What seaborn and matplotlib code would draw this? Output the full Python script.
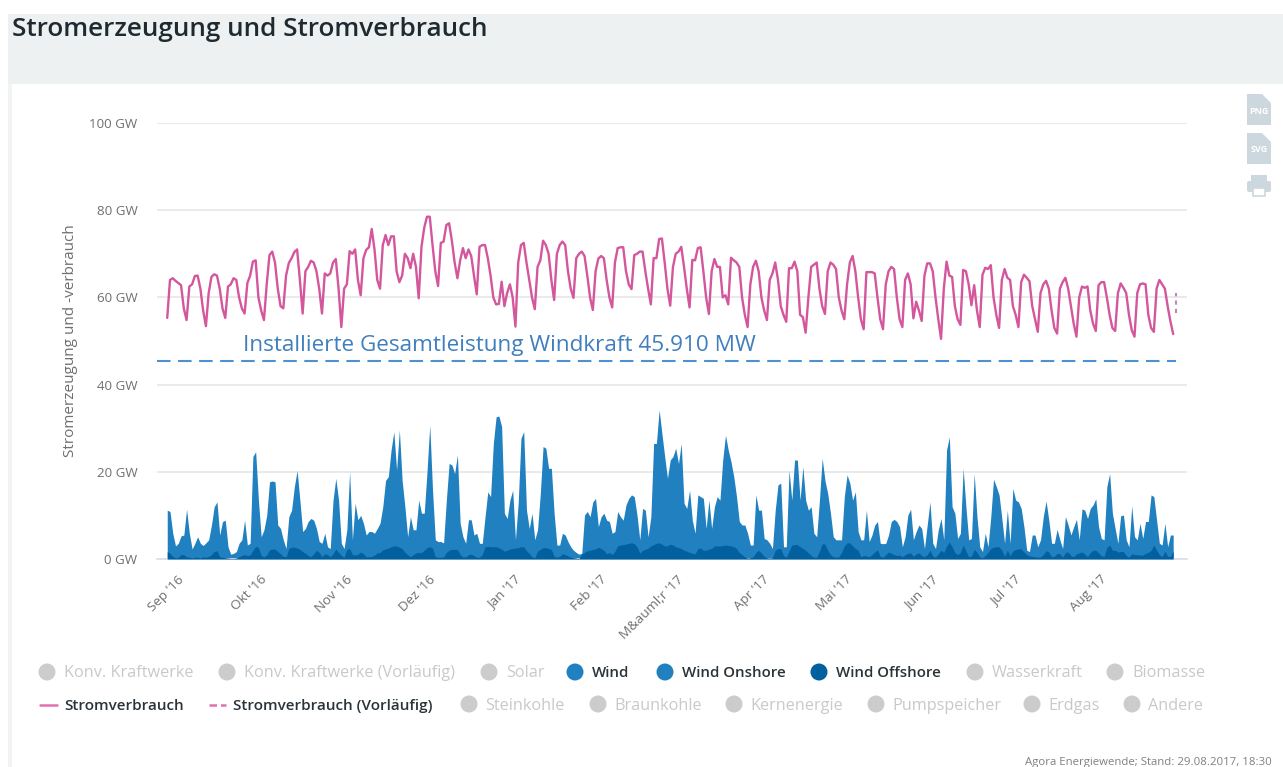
# -*- coding: utf-8 -*-
"""
Stromerzeugung und Stromverbrauch - Wind und Verbrauch Sep 2016 bis Aug 2017
"""
import pandas as pd
import seaborn as sns
import matplotlib.pyplot as plt
from matplotlib.patches import Rectangle, Polygon, Circle, FancyBboxPatch

#one row per week, starting on the sunday low
verbrauch = [
    55.3, 64.0, 64.4, 63.8, 63.3, 62.8, 57.5,
    54.8, 62.5, 63.0, 64.9, 65.0, 62.0, 57.0,
    53.4, 61.0, 64.7, 65.3, 65.0, 62.0, 57.5,
    55.3, 62.5, 63.0, 64.4, 64.0, 60.0, 57.5,
    56.3, 63.3, 65.0, 68.2, 68.5, 60.0, 57.0,
    54.8, 63.0, 69.7, 70.5, 68.0, 62.0, 58.0,
    57.5, 65.0, 67.9, 69.0, 70.4, 71.0, 64.0,
    56.3, 66.0, 67.0, 68.4, 68.0, 66.0, 62.0,
    56.3, 65.5, 65.0, 65.5, 68.0, 68.8, 62.0,
    53.2, 62.0, 63.0, 70.6, 70.0, 71.0, 64.0,
    60.5, 69.0, 70.9, 71.5, 75.7, 71.0, 64.0,
    62.0, 72.0, 74.3, 72.0, 74.0, 74.0, 66.0,
    63.5, 65.0, 70.0, 69.0, 66.7, 70.0, 67.0,
    59.8, 71.6, 76.0, 78.5, 78.5, 72.0, 66.0,
    62.6, 72.5, 72.8, 76.6, 77.0, 73.0, 68.0,
    64.4, 68.5, 71.3, 69.0, 71.0, 69.5, 65.0,
    60.7, 71.6, 72.0, 72.0, 69.0, 65.0, 60.0,
    58.4, 58.5, 63.6, 58.0, 61.0, 63.0, 60.0,
    53.3, 68.0, 72.0, 72.5, 68.0, 64.0, 60.0,
    57.3, 67.0, 68.5, 73.0, 72.0, 70.0, 64.0,
    59.4, 70.0, 72.0, 72.8, 72.0, 66.0, 62.0,
    59.9, 69.0, 70.0, 70.5, 69.5, 65.0, 60.0,
    57.1, 66.0, 68.9, 69.5, 69.0, 64.0, 60.0,
    57.7, 68.0, 71.3, 71.5, 71.5, 66.0, 63.0,
    61.9, 69.7, 70.0, 70.5, 70.5, 66.0, 62.0,
    58.4, 69.0, 69.0, 73.4, 73.5, 68.0, 62.0,
    58.1, 67.0, 70.0, 70.5, 71.6, 67.0, 62.0,
    57.7, 68.6, 68.5, 71.3, 71.5, 66.0, 60.0,
    56.2, 66.0, 68.8, 67.0, 67.0, 60.0, 60.5,
    58.4, 69.1, 68.5, 68.0, 67.0, 60.0, 56.0,
    53.2, 63.0, 67.0, 68.4, 66.0, 60.0, 57.0,
    54.8, 64.0, 65.5, 68.0, 64.0, 58.0, 56.0,
    54.4, 66.7, 66.7, 68.2, 66.0, 56.0, 55.5,
    51.9, 60.0, 67.0, 67.5, 68.0, 62.0, 58.0,
    56.2, 66.0, 68.0, 67.5, 66.5, 60.0, 57.0,
    55.0, 63.0, 68.0, 69.5, 66.0, 60.0, 55.0,
    52.7, 65.8, 65.8, 65.8, 65.5, 60.0, 55.0,
    52.7, 63.0, 66.0, 67.0, 66.5, 60.0, 55.0,
    53.2, 64.0, 65.5, 63.0, 55.2, 59.0, 57.0,
    54.6, 65.0, 67.8, 67.8, 66.0, 60.0, 55.0,
    50.5, 62.0, 68.2, 65.0, 64.7, 58.0, 55.0,
    53.7, 66.3, 66.0, 63.0, 58.2, 62.8, 57.0,
    53.2, 65.2, 66.8, 66.5, 67.4, 60.0, 56.0,
    53.0, 64.0, 66.5, 64.5, 64.0, 58.0, 56.0,
    53.2, 63.5, 65.2, 64.5, 63.7, 58.0, 55.0,
    52.1, 61.0, 63.0, 63.8, 62.0, 57.0, 53.0,
    51.7, 62.0, 63.5, 64.5, 62.0, 58.0, 54.0,
    51.0, 60.0, 62.5, 62.2, 62.5, 57.0, 54.0,
    52.3, 62.8, 63.5, 63.5, 60.0, 56.0, 53.0,
    52.3, 61.0, 63.2, 62.2, 61.0, 56.0, 52.5,
    51.0, 61.0, 63.0, 63.2, 63.0, 56.0, 53.0,
    52.1, 62.0, 64.0, 63.0, 62.0, 58.0, 54.5,
]
verbrauch_ende = 51.6
verbrauch_vorl = [60.9, 56.5]

wind_gesamt = [
    11.2, 10.9, 5.9, 3.0, 3.6, 5.3, 5.5, 11.4, 5.9, 2.3,
    3.6, 5.1, 3.6, 3.1, 3.7, 4.4, 7.8, 12.0, 13.1, 5.5,
    8.6, 8.9, 2.8, 1.1, 1.3, 1.7, 3.6, 4.4, 8.9, 3.2,
    3.6, 23.5, 24.6, 13.5, 5.1, 6.7, 10.0, 17.7, 17.9, 17.7,
    7.8, 7.0, 4.4, 2.4, 9.7, 11.2, 16.6, 20.3, 13.5, 6.3,
    7.0, 8.6, 9.3, 8.9, 7.0, 4.0, 3.6, 5.9, 2.8, 2.4,
    13.5, 18.5, 13.5, 3.6, 2.4, 6.7, 20.0, 4.4, 12.8, 9.0,
    10.0, 8.2, 5.5, 6.3, 6.3, 5.9, 7.0, 8.2, 12.0, 18.0,
    18.9, 25.0, 29.2, 20.4, 29.6, 18.0, 12.0, 5.1, 9.7, 6.7,
    6.7, 13.5, 10.5, 10.5, 20.0, 30.7, 15.8, 4.4, 4.0, 4.0,
    3.7, 13.5, 21.9, 21.6, 19.6, 23.9, 8.2, 5.1, 3.6, 9.0,
    9.0, 5.5, 5.9, 3.6, 3.6, 9.7, 15.4, 14.3, 26.5, 32.6,
    32.8, 30.4, 10.5, 9.3, 13.5, 15.8, 4.4, 12.8, 27.7, 29.2,
    11.2, 7.0, 10.5, 4.4, 6.7, 15.0, 25.8, 25.4, 20.8, 20.8,
    10.5, 3.2, 3.2, 5.9, 5.5, 4.0, 2.8, 2.0, 1.5, 1.1,
    1.3, 10.1, 10.9, 9.7, 13.1, 13.9, 7.4, 9.7, 10.5, 8.9,
    8.6, 5.9, 6.3, 10.9, 9.7, 8.9, 12.4, 13.9, 14.7, 14.3,
    10.0, 4.4, 11.6, 11.2, 5.1, 9.7, 26.5, 26.5, 34.2, 28.8,
    23.5, 18.5, 22.7, 23.5, 25.4, 21.9, 26.5, 12.8, 11.6, 15.8,
    8.9, 5.9, 14.7, 14.3, 13.9, 7.0, 13.5, 7.0, 12.0, 14.3,
    13.5, 22.7, 28.4, 25.0, 22.3, 18.9, 14.3, 8.6, 7.8, 7.8,
    5.9, 3.2, 3.2, 14.7, 11.2, 11.2, 4.7, 4.4, 3.6, 2.4,
    11.2, 17.0, 17.4, 2.8, 2.8, 20.4, 13.5, 22.7, 22.7, 13.5,
    21.2, 13.5, 11.2, 12.0, 5.9, 5.1, 13.5, 23.1, 18.0, 15.0,
    10.5, 5.1, 4.4, 4.4, 4.4, 14.3, 19.3, 17.4, 13.5, 15.4,
    6.3, 4.4, 4.4, 11.2, 4.0, 5.5, 7.8, 8.6, 3.6, 3.5,
    3.6, 5.5, 8.6, 9.1, 8.6, 7.4, 2.8, 5.1, 10.1, 11.4,
    4.4, 6.3, 7.8, 7.0, 2.4, 7.8, 13.1, 3.6, 2.4, 6.7,
    9.3, 4.4, 25.0, 28.0, 12.0, 10.5, 4.7, 5.9, 20.8, 12.0,
    4.4, 4.7, 19.6, 9.7, 2.8, 1.7, 5.9, 2.8, 9.7, 18.3,
    16.6, 14.7, 9.3, 3.6, 11.2, 3.6, 16.2, 13.5, 13.1, 11.6,
    7.4, 2.0, 1.7, 5.5, 5.5, 2.8, 4.4, 9.7, 13.3, 8.9,
    3.6, 3.6, 6.8, 4.4, 2.4, 9.7, 7.8, 5.5, 7.4, 9.1,
    4.4, 11.5, 11.2, 9.3, 11.6, 12.4, 13.8, 7.4, 4.7, 4.4,
    16.6, 19.6, 10.5, 7.0, 3.6, 9.9, 10.1, 4.4, 2.8, 12.2,
    5.1, 4.4, 8.2, 4.7, 8.6, 8.6, 14.7, 14.3, 8.9, 3.6,
    3.2, 8.2, 2.8, 5.5, 5.5,
]

wind_offshore = [
    1.7, 1.3, 0.6, 0.3, 0.4, 1.0, 1.0, 0.5, 0.4, 0.3,
    0.4, 0.4, 0.3, 0.5, 0.4, 0.6, 1.0, 1.7, 1.9, 0.5,
    0.4, 0.3, 0.2, 0.1, 0.1, 0.2, 0.5, 0.8, 1.0, 0.8,
    0.9, 2.0, 2.9, 2.6, 0.8, 0.5, 0.9, 2.1, 2.3, 2.3,
    1.7, 1.2, 0.6, 0.5, 2.4, 2.7, 2.7, 2.5, 2.2, 1.7,
    1.3, 0.8, 0.5, 1.2, 2.0, 1.5, 0.5, 1.2, 1.0, 0.5,
    1.2, 2.3, 1.5, 0.8, 0.4, 2.2, 2.4, 1.0, 0.9, 1.1,
    1.6, 1.2, 0.5, 0.5, 0.6, 0.9, 1.4, 1.5, 2.1, 2.3,
    2.5, 2.8, 3.0, 3.0, 2.7, 2.4, 1.5, 1.0, 0.5, 1.0,
    1.4, 1.5, 1.5, 2.0, 2.6, 2.8, 2.5, 0.5, 0.4, 0.4,
    0.5, 1.5, 2.0, 2.2, 2.2, 2.2, 1.0, 0.5, 0.5, 1.0,
    1.1, 0.8, 0.4, 0.4, 1.0, 2.8, 2.9, 2.8, 2.8, 2.8,
    2.6, 2.2, 1.8, 2.0, 2.3, 2.4, 2.5, 2.6, 2.8, 2.8,
    1.9, 1.3, 0.5, 0.3, 1.8, 2.2, 2.6, 2.6, 2.4, 2.2,
    0.6, 0.4, 0.6, 1.2, 1.0, 0.7, 0.4, 0.3, 0.2, 0.1,
    1.2, 1.5, 1.9, 2.0, 2.2, 2.3, 2.7, 2.4, 2.0, 1.2,
    1.5, 1.0, 1.8, 3.0, 3.2, 3.3, 3.4, 3.6, 3.7, 3.5,
    2.8, 1.3, 2.0, 2.2, 2.5, 3.0, 3.3, 3.6, 3.7, 3.4,
    3.0, 3.0, 3.4, 3.2, 2.8, 2.6, 2.4, 2.0, 1.8, 1.5,
    1.3, 1.2, 2.4, 2.5, 2.0, 2.0, 2.3, 2.4, 3.0, 3.0,
    3.0, 3.1, 3.2, 3.1, 3.0, 2.8, 2.4, 1.5, 1.0, 0.5,
    0.2, 0.3, 0.5, 1.5, 2.0, 1.4, 0.6, 0.3, 0.2, 0.3,
    2.0, 2.4, 2.4, 0.8, 0.4, 1.8, 3.2, 3.3, 3.3, 2.8,
    2.4, 2.0, 1.4, 0.8, 0.4, 0.4, 1.8, 3.5, 3.4, 2.0,
    1.0, 0.5, 0.4, 0.5, 1.5, 3.0, 3.7, 3.7, 3.0, 2.4,
    2.0, 0.5, 0.8, 0.7, 0.5, 1.0, 1.6, 2.1, 0.6, 0.4,
    1.0, 1.6, 1.3, 1.0, 0.8, 0.9, 0.5, 1.0, 1.3, 1.4,
    0.6, 1.2, 1.4, 0.8, 0.5, 1.0, 2.0, 0.7, 0.4, 1.2,
    2.0, 1.5, 3.0, 3.9, 2.8, 1.5, 1.0, 1.5, 3.2, 1.8,
    0.5, 0.7, 2.2, 1.5, 0.5, 0.3, 0.8, 1.5, 2.4, 2.7,
    2.8, 2.8, 2.0, 0.6, 2.0, 0.8, 1.8, 2.2, 2.3, 2.3,
    1.6, 1.0, 0.7, 0.6, 0.5, 0.4, 0.5, 1.0, 1.9, 1.6,
    0.5, 0.6, 1.3, 1.2, 0.4, 1.5, 1.6, 0.8, 0.5, 1.2,
    1.4, 1.6, 1.1, 0.5, 1.5, 2.0, 2.0, 1.4, 0.7, 0.6,
    2.6, 3.2, 2.0, 2.0, 1.6, 1.7, 1.7, 0.8, 0.4, 1.2,
    1.0, 1.0, 0.9, 0.9, 1.3, 1.5, 2.0, 3.2, 2.0, 1.0,
    0.5, 1.8, 0.6, 0.6, 1.8,
]

installiert_gw = 45.4
monate = ['2016-09-01', '2016-10-01', '2016-11-01', '2016-12-01', '2017-01-01', '2017-02-01',
          '2017-03-01', '2017-04-01', '2017-05-01', '2017-06-01', '2017-07-01', '2017-08-01']
monat_labels = ["Sep '16", "Okt '16", "Nov '16", "Dez '16", "Jan '17", "Feb '17",
                "M&auml;r '17", "Apr '17", "Mai '17", "Jun '17", "Jul '17", "Aug '17"]
y_ticks = [0, 20, 40, 60, 80, 100]
y_labels = ['0 GW', '20 GW', '40 GW', '60 GW', '80 GW', '100 GW']

legende_1 = ['Konv. Kraftwerke', 'Konv. Kraftwerke (Vorläufig)', 'Solar', 'Wind',
             'Wind Onshore', 'Wind Offshore', 'Wasserkraft', 'Biomasse']
legende_2 = ['Stromverbrauch', 'Stromverbrauch (Vorläufig)', 'Steinkohle', 'Braunkohle',
             'Kernenergie', 'Pumpspeicher', 'Erdgas', 'Andere']

PINK = '#d4569c'
BLAU = '#2080c0'
DUNKEL = '#02609f'
INSTALL = '#4f90cf'
GRAU = '#cccccc'

sns.set_theme(style='white')
plt.rcParams['font.family'] = ['Open Sans', 'DejaVu Sans']

W, H = 1283, 767
fig = plt.figure(figsize=(W/100, H/100), dpi=100, facecolor='white')

#background in pixel coordinates
bg = fig.add_axes([0, 0, 1, 1], zorder=0)
bg.set_xlim(0, W)
bg.set_ylim(H, 0)
bg.axis('off')
bg.add_patch(Rectangle((8, 14), W-8, 70, fc='#eef1f2', ec='none'))
bg.add_patch(Rectangle((8, 84), 4, H-84, fc='#f1f3f4', ec='none'))
bg.text(12, 30, 'Stromerzeugung und Stromverbrauch', fontsize=18.8, color='#1f2a30',
        va='center', ha='left', fontweight='semibold')

#export icons
ICON = '#cdd8de'
for top, name in [(94, 'PNG'), (133, 'SVG')]:
    bg.add_patch(Polygon([(1247, top), (1262, top), (1271, top+9), (1271, top+31), (1247, top+31)],
                         fc=ICON, ec='none'))
    bg.text(1259, top+17, name, fontsize=6.5, color='white', ha='center', va='center', fontweight='bold')
bg.add_patch(Rectangle((1251, 175), 16, 6, fc=ICON, ec='none'))
bg.add_patch(FancyBboxPatch((1247, 181), 24, 11, boxstyle='round,pad=0,rounding_size=2', fc=ICON, ec='none'))
bg.add_patch(Rectangle((1253, 188), 12, 8, fc='white', ec=ICON, lw=1.2))

#main axes, 157..1187 px wide and 0 GW at 559 px, 100 GW at 123 px
ax = fig.add_axes([157/W, 1-559/H, (1187-157)/W, (559-123)/H], zorder=1)
ax.patch.set_alpha(0)

tage = pd.date_range('2016-08-28 12:00', periods=len(wind_gesamt), freq='D')
dat = pd.DataFrame({'tag': tage, 'verbrauch': verbrauch + [verbrauch_ende],
                    'gesamt': wind_gesamt, 'offshore': wind_offshore})

ax.fill_between(dat['tag'], 0, dat['gesamt'], color=BLAU, lw=0, zorder=2)
ax.fill_between(dat['tag'], 0, dat['offshore'], color=DUNKEL, lw=0, zorder=3)
sns.lineplot(data=dat, x='tag', y='verbrauch', color=PINK, lw=1.7, ax=ax, zorder=4, errorbar=None)

#the short preliminary piece at the very end
vorl = pd.DataFrame({'tag': [tage[-1] + pd.Timedelta(days=1)]*2, 'verbrauch': verbrauch_vorl})
sns.lineplot(data=vorl, x='tag', y='verbrauch', color='#c08ab0', lw=1.5, ls=(0, (2, 2)), ax=ax, zorder=4,
             errorbar=None, estimator=None)

ax.axhline(installiert_gw, xmin=0, xmax=(1176-157)/(1187-157), color=INSTALL, lw=1.5, ls=(0, (6.5, 3.6)), zorder=2)
ax.text(pd.Timestamp('2016-09-25'), 49, 'Installierte Gesamtleistung Windkraft 45.910 MW',
        color='#3f7fbd', fontsize=16.2, va='center', ha='left')

ax.set_xlim(tage[0] - pd.Timedelta(days=3.7), tage[0] + pd.Timedelta(days=369))
ax.set_ylim(0, 100)
ax.set_yticks(y_ticks, y_labels)
ax.set_xticks(pd.to_datetime(monate), monat_labels)
ax.grid(axis='y', color='#e6e6e6', lw=1.2)
ax.set_axisbelow(True)
for s in ['top', 'right', 'left']:
    ax.spines[s].set_visible(False)
ax.spines['bottom'].set_color('#d5e0ea')
ax.spines['bottom'].set_linewidth(1.2)
ax.tick_params(axis='y', length=0, pad=14, labelsize=9.6, labelcolor='#6f6f6f')
ax.tick_params(axis='x', length=7, width=1, color='#d5e0ea', pad=3, labelsize=9.6, labelcolor='#6f6f6f')
for lab in ax.get_xticklabels():
    lab.set_rotation(45)
    lab.set_ha('right')
    lab.set_rotation_mode('anchor')
ax.set_xlabel('')
ax.set_ylabel('')
bg.text(71, 341, 'Stromerzeugung und -verbrauch', rotation=90, fontsize=11, color='#6f6f6f',
        ha='center', va='center')

#legend drawn by hand, the original is an interactive one with greyed out entries
leg = fig.add_axes([0, 0, 1, 1], zorder=2)
leg.set_xlim(0, W)
leg.set_ylim(H, 0)
leg.axis('off')
aktiv = {'Wind': BLAU, 'Wind Onshore': BLAU, 'Wind Offshore': DUNKEL}
reihe_1_x = [47, 227, 489, 575, 665, 819, 975, 1115]
reihe_2_x = [48, 217, 469, 598, 734, 876, 1032, 1132]
for name, x in zip(legende_1, reihe_1_x):
    leg.add_patch(Circle((x, 672), 8.5, fc=aktiv.get(name, GRAU), ec='none'))
    on = name in aktiv
    leg.text(x+17, 673, name, fontsize=10.8 if on else 11.7, va='center', ha='left',
             color='#2a3338' if on else '#c9c9c9', fontweight='semibold' if on else 'normal')
for name, x in zip(legende_2, reihe_2_x):
    if name.startswith('Stromverbrauch'):
        ls = (0, (3, 1.6)) if 'Vorl' in name else '-'
        leg.plot([x-8, x+9], [705, 705], color='#e070b0', lw=1.8, ls=ls)
        leg.text(x+16, 706, name, fontsize=11, va='center', ha='left', color='#2a3338', fontweight='semibold')
    else:
        leg.add_patch(Circle((x, 704), 8.5, fc=GRAU, ec='none'))
        leg.text(x+16, 706, name, fontsize=11.7, va='center', ha='left', color='#c9c9c9')
leg.text(1272, 762, 'Agora Energiewende; Stand: 29.08.2017, 18:30', fontsize=8.2, color='#808080',
         ha='right', va='center')

plt.savefig('out.png', dpi=100)
